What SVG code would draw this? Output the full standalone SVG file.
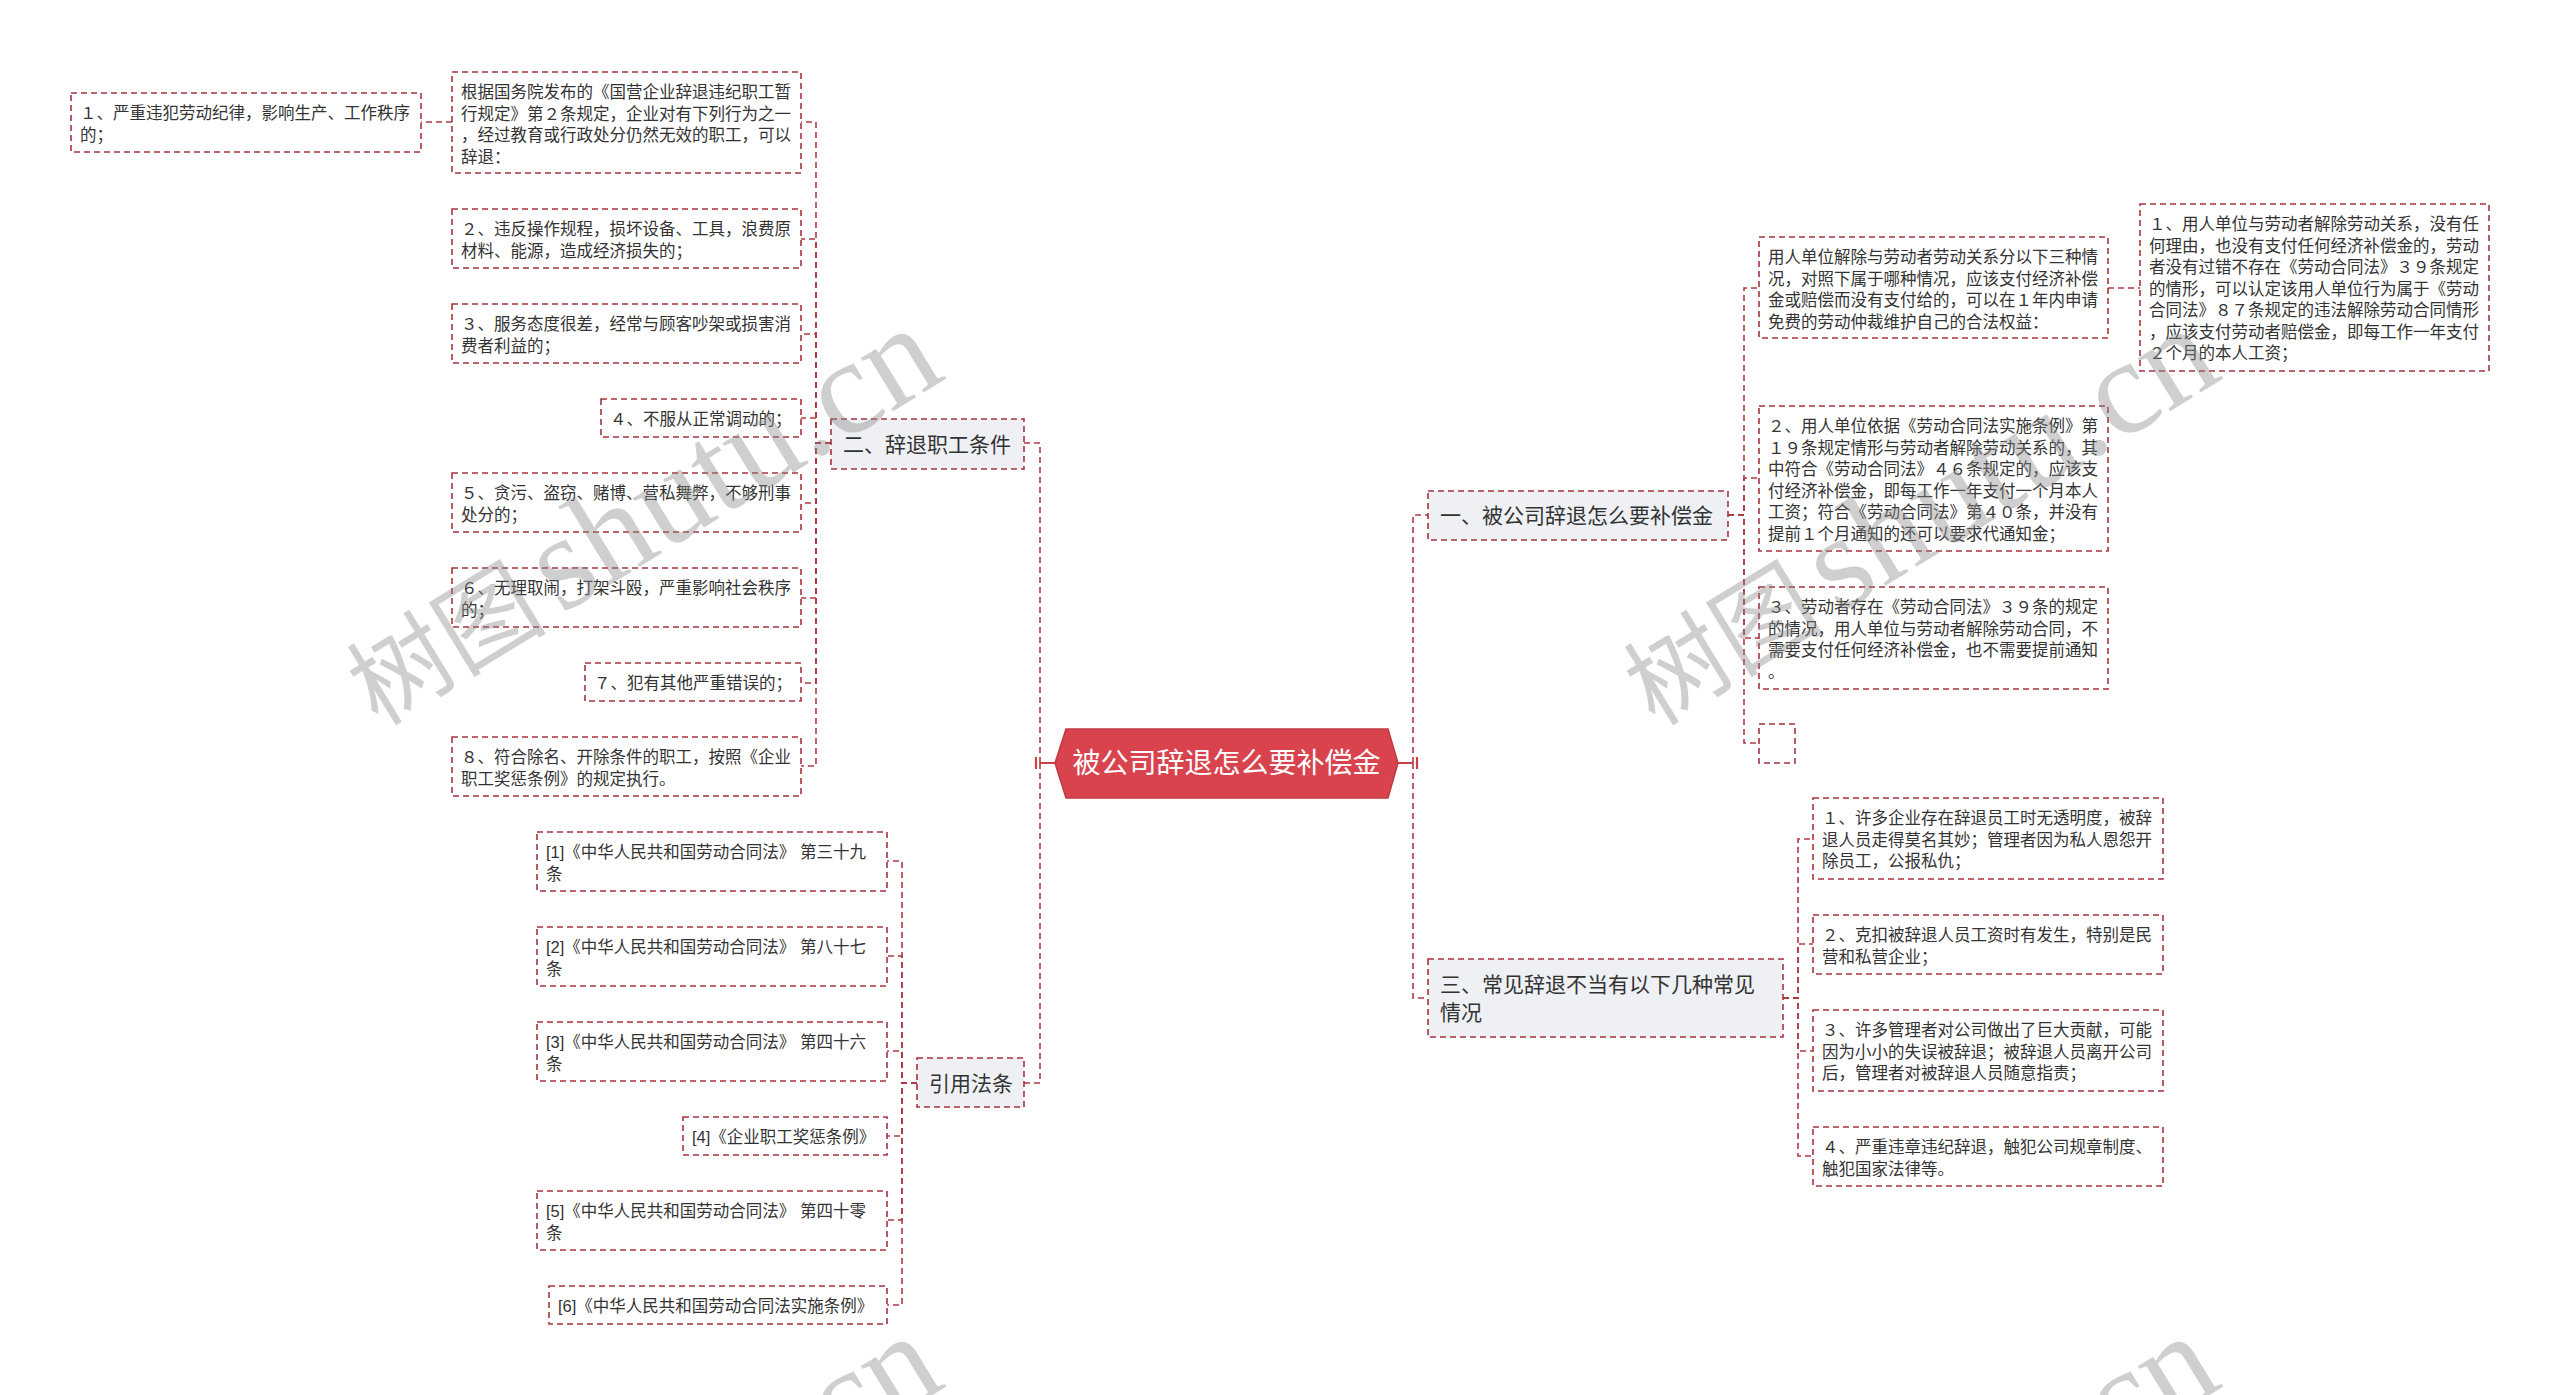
<svg xmlns="http://www.w3.org/2000/svg" width="2560" height="1395" viewBox="0 0 2560 1395">
<style>
.bx{fill:#fff;stroke:#a8323d;stroke-width:1.6;stroke-dasharray:6 4}
.l1 .bx{fill:#eef0f3}
.t{font-family:"Liberation Sans","Noto Sans CJK SC",sans-serif;font-size:16.5px;fill:#333}
.t1{font-family:"Liberation Sans","Noto Sans CJK SC",sans-serif;font-size:21px;fill:#333}
.rt{font-family:"Liberation Sans","Noto Sans CJK SC",sans-serif;font-size:28px;fill:#fff}
.c{fill:none;stroke:#b03a44;stroke-width:1.6;stroke-dasharray:6 4}
.cs{fill:none;stroke:#c9404a;stroke-width:2.2}
.wm{font-family:"Liberation Serif","Noto Sans CJK SC",serif;fill:#8a8a8a;opacity:0.4}
</style>
<rect width="2560" height="1395" fill="#fff"/>

<g id="connectors">
<path class="cs" d="M1055 763H1040M1036 757V769"/>
<path class="cs" d="M1398 763H1413M1417 757V769"/>
<path class="c" d="M1040 763V443H1024"/>
<path class="c" d="M1040 763V1083H1024"/>
<path class="c" d="M1413 763V515H1428"/>
<path class="c" d="M1413 763V998H1428"/>
<path class="c" d="M831 443H816V122H801"/>
<path class="c" d="M831 443H816V239H801"/>
<path class="c" d="M831 443H816V334H801"/>
<path class="c" d="M831 443H816V418H801"/>
<path class="c" d="M831 443H816V503H801"/>
<path class="c" d="M831 443H816V598H801"/>
<path class="c" d="M831 443H816V683H801"/>
<path class="c" d="M831 443H816V766H801"/>
<path class="c" d="M452 122H421"/>
<path class="c" d="M917 1083H902V861H887"/>
<path class="c" d="M917 1083H902V956H887"/>
<path class="c" d="M917 1083H902V1051H887"/>
<path class="c" d="M917 1083H902V1136H887"/>
<path class="c" d="M917 1083H902V1220H887"/>
<path class="c" d="M917 1083H902V1305H887"/>
<path class="c" d="M1728 515H1744V288H1759"/>
<path class="c" d="M1728 515H1744V478H1759"/>
<path class="c" d="M1728 515H1744V638H1759"/>
<path class="c" d="M1728 515H1744V743H1759"/>
<path class="c" d="M2108 288H2140"/>
<path class="c" d="M1783 998H1798V839H1813"/>
<path class="c" d="M1783 998H1798V944H1813"/>
<path class="c" d="M1783 998H1798V1051H1813"/>
<path class="c" d="M1783 998H1798V1156H1813"/>
</g>

<g id="root">
<polygon points="1055,763 1066,729 1388,729 1398,763 1388,798 1066,798" fill="#d9434e" stroke="#c23842" stroke-width="1.5"/>
<text class="rt" x="1226.5" y="773" text-anchor="middle">被公司辞退怎么要补偿金</text>
</g>

<g id="n-er" class="l1">
<rect class="bx" x="831" y="419" width="193" height="50"/>
<text class="t1" x="843" y="452">二、辞退职工条件</text>
</g>
<g id="n-yinyong" class="l1">
<rect class="bx" x="917" y="1058" width="107" height="49"/>
<text class="t1" x="929" y="1091">引用法条</text>
</g>
<g id="n-yi" class="l1">
<rect class="bx" x="1428" y="491" width="300" height="49"/>
<text class="t1" x="1440" y="523">一、被公司辞退怎么要补偿金</text>
</g>
<g id="n-san" class="l1">
<rect class="bx" x="1428" y="959" width="355" height="78"/>
<text class="t1" x="1440" y="992">三、常见辞退不当有以下几种常见<tspan x="1440" dy="28">情况</tspan></text>
</g>

<g id="n-genju">
<rect class="bx" x="452" y="72" width="349" height="101"/>
<text class="t" x="461" y="98">根据国务院发布的《国营企业辞退违纪职工暂<tspan x="461" dy="21.5">行规定》第２条规定，企业对有下列行为之一</tspan><tspan x="461" dy="21.5">，经过教育或行政处分仍然无效的职工，可以</tspan><tspan x="461" dy="21.5">辞退：</tspan></text>
</g>
<g id="n-l1">
<rect class="bx" x="71" y="93" width="350" height="59"/>
<text class="t" x="80" y="119">１、严重违犯劳动纪律，影响生产、工作秩序<tspan x="80" dy="21.5">的；</tspan></text>
</g>
<g id="n-l2">
<rect class="bx" x="452" y="209" width="349" height="59"/>
<text class="t" x="461" y="235">２、违反操作规程，损坏设备、工具，浪费原<tspan x="461" dy="21.5">材料、能源，造成经济损失的；</tspan></text>
</g>
<g id="n-l3">
<rect class="bx" x="452" y="304" width="349" height="59"/>
<text class="t" x="461" y="330">３、服务态度很差，经常与顾客吵架或损害消<tspan x="461" dy="21.5">费者利益的；</tspan></text>
</g>
<g id="n-l4">
<rect class="bx" x="601" y="399" width="200" height="38"/>
<text class="t" x="610" y="425">４、不服从正常调动的；</text>
</g>
<g id="n-l5">
<rect class="bx" x="452" y="473" width="349" height="59"/>
<text class="t" x="461" y="499">５、贪污、盗窃、赌博、营私舞弊，不够刑事<tspan x="461" dy="21.5">处分的；</tspan></text>
</g>
<g id="n-l6">
<rect class="bx" x="452" y="568" width="349" height="59"/>
<text class="t" x="461" y="594">６、无理取闹，打架斗殴，严重影响社会秩序<tspan x="461" dy="21.5">的；</tspan></text>
</g>
<g id="n-l7">
<rect class="bx" x="585" y="663" width="216" height="38"/>
<text class="t" x="594" y="689">７、犯有其他严重错误的；</text>
</g>
<g id="n-l8">
<rect class="bx" x="452" y="737" width="349" height="59"/>
<text class="t" x="461" y="763">８、符合除名、开除条件的职工，按照《企业<tspan x="461" dy="21.5">职工奖惩条例》的规定执行。</tspan></text>
</g>

<g id="n-r1">
<rect class="bx" x="537" y="832" width="350" height="59"/>
<text class="t" x="546" y="858" xml:space="preserve">[1]《中华人民共和国劳动合同法》 第三十九<tspan x="546" dy="21.5">条</tspan></text>
</g>
<g id="n-r2">
<rect class="bx" x="537" y="927" width="350" height="59"/>
<text class="t" x="546" y="953" xml:space="preserve">[2]《中华人民共和国劳动合同法》 第八十七<tspan x="546" dy="21.5">条</tspan></text>
</g>
<g id="n-r3">
<rect class="bx" x="537" y="1022" width="350" height="59"/>
<text class="t" x="546" y="1048" xml:space="preserve">[3]《中华人民共和国劳动合同法》 第四十六<tspan x="546" dy="21.5">条</tspan></text>
</g>
<g id="n-r4">
<rect class="bx" x="683" y="1117" width="204" height="38"/>
<text class="t" x="692" y="1143">[4]《企业职工奖惩条例》</text>
</g>
<g id="n-r5">
<rect class="bx" x="537" y="1191" width="350" height="59"/>
<text class="t" x="546" y="1217" xml:space="preserve">[5]《中华人民共和国劳动合同法》 第四十零<tspan x="546" dy="21.5">条</tspan></text>
</g>
<g id="n-r6">
<rect class="bx" x="549" y="1286" width="338" height="38"/>
<text class="t" x="558" y="1312">[6]《中华人民共和国劳动合同法实施条例》</text>
</g>

<g id="n-yongren">
<rect class="bx" x="1759" y="237" width="349" height="101"/>
<text class="t" x="1768" y="263">用人单位解除与劳动者劳动关系分以下三种情<tspan x="1768" dy="21.5">况，对照下属于哪种情况，应该支付经济补偿</tspan><tspan x="1768" dy="21.5">金或赔偿而没有支付给的，可以在１年内申请</tspan><tspan x="1768" dy="21.5">免费的劳动仲裁维护自己的合法权益：</tspan></text>
</g>
<g id="n-y1">
<rect class="bx" x="2140" y="204" width="349" height="167"/>
<text class="t" x="2149" y="230">１、用人单位与劳动者解除劳动关系，没有任<tspan x="2149" dy="21.5">何理由，也没有支付任何经济补偿金的，劳动</tspan><tspan x="2149" dy="21.5">者没有过错不存在《劳动合同法》３９条规定</tspan><tspan x="2149" dy="21.5">的情形，可以认定该用人单位行为属于《劳动</tspan><tspan x="2149" dy="21.5">合同法》８７条规定的违法解除劳动合同情形</tspan><tspan x="2149" dy="21.5">，应该支付劳动者赔偿金，即每工作一年支付</tspan><tspan x="2149" dy="21.5">２个月的本人工资；</tspan></text>
</g>
<g id="n-y2">
<rect class="bx" x="1759" y="406" width="349" height="145"/>
<text class="t" x="1768" y="432">２、用人单位依据《劳动合同法实施条例》第<tspan x="1768" dy="21.5">１９条规定情形与劳动者解除劳动关系的，其</tspan><tspan x="1768" dy="21.5">中符合《劳动合同法》４６条规定的，应该支</tspan><tspan x="1768" dy="21.5">付经济补偿金，即每工作一年支付一个月本人</tspan><tspan x="1768" dy="21.5">工资；符合《劳动合同法》第４０条，并没有</tspan><tspan x="1768" dy="21.5">提前１个月通知的还可以要求代通知金；</tspan></text>
</g>
<g id="n-y3">
<rect class="bx" x="1759" y="587" width="349" height="102"/>
<text class="t" x="1768" y="613">３、劳动者存在《劳动合同法》３９条的规定<tspan x="1768" dy="21.5">的情况，用人单位与劳动者解除劳动合同，不</tspan><tspan x="1768" dy="21.5">需要支付任何经济补偿金，也不需要提前通知</tspan><tspan x="1768" dy="21.5">。</tspan></text>
</g>
<g id="n-empty">
<rect class="bx" x="1759" y="724" width="36" height="39"/>
</g>

<g id="n-s1">
<rect class="bx" x="1813" y="798" width="350" height="81"/>
<text class="t" x="1822" y="824">１、许多企业存在辞退员工时无透明度，被辞<tspan x="1822" dy="21.5">退人员走得莫名其妙；管理者因为私人恩怨开</tspan><tspan x="1822" dy="21.5">除员工，公报私仇；</tspan></text>
</g>
<g id="n-s2">
<rect class="bx" x="1813" y="915" width="350" height="59"/>
<text class="t" x="1822" y="941">２、克扣被辞退人员工资时有发生，特别是民<tspan x="1822" dy="21.5">营和私营企业；</tspan></text>
</g>
<g id="n-s3">
<rect class="bx" x="1813" y="1010" width="350" height="81"/>
<text class="t" x="1822" y="1036">３、许多管理者对公司做出了巨大贡献，可能<tspan x="1822" dy="21.5">因为小小的失误被辞退；被辞退人员离开公司</tspan><tspan x="1822" dy="21.5">后，管理者对被辞退人员随意指责；</tspan></text>
</g>
<g id="n-s4">
<rect class="bx" x="1813" y="1127" width="350" height="59"/>
<text class="t" x="1822" y="1153">４、严重违章违纪辞退，触犯公司规章制度、<tspan x="1822" dy="21.5">触犯国家法律等。</tspan></text>
</g>

<g id="watermark">
<text class="wm" transform="translate(378,727) rotate(-31.5)"><tspan font-size="100" font-family="Noto Sans CJK SC,sans-serif">树图</tspan><tspan font-size="135" dx="15">shutu.cn</tspan></text>
<text class="wm" transform="translate(1655,727) rotate(-31.5)"><tspan font-size="100" font-family="Noto Sans CJK SC,sans-serif">树图</tspan><tspan font-size="135" dx="15">shutu.cn</tspan></text>
<text class="wm" transform="translate(378,1735) rotate(-31.5)"><tspan font-size="100" font-family="Noto Sans CJK SC,sans-serif">树图</tspan><tspan font-size="135" dx="15">shutu.cn</tspan></text>
<text class="wm" transform="translate(1655,1735) rotate(-31.5)"><tspan font-size="100" font-family="Noto Sans CJK SC,sans-serif">树图</tspan><tspan font-size="135" dx="15">shutu.cn</tspan></text>
</g>
</svg>
